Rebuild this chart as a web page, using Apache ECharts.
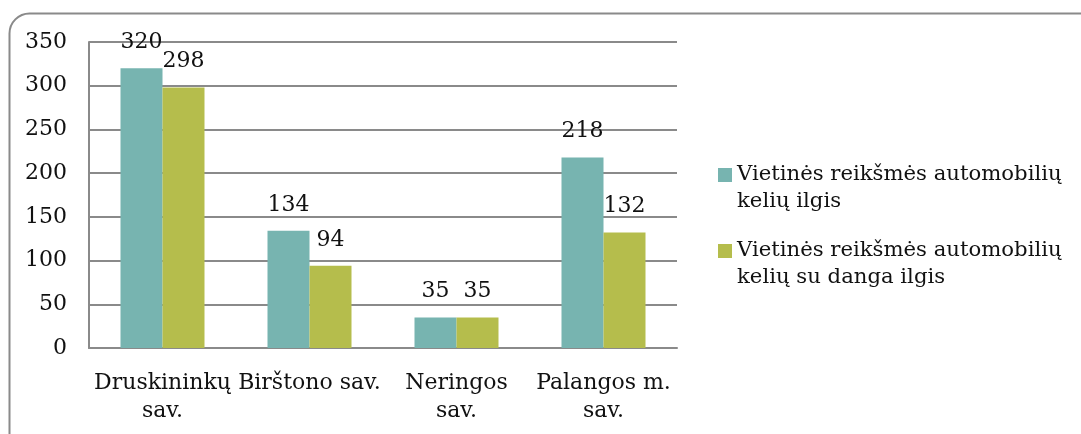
<!DOCTYPE html>
<html lang="lt">
<head>
<meta charset="utf-8">
<title>Keliai</title>
<script src="https://cdn.jsdelivr.net/npm/echarts@6/dist/echarts.min.js"></script>
<style>
  html, body { margin: 0; padding: 0; background: #fff; }
</style>
</head>
<body>
<div id="main" style="width:1081px;height:434px;"></div>
<script type="text/javascript">
  let categories = ['Druskininkų\nsav.', 'Birštono sav.', 'Neringos\nsav.', 'Palangos m.\nsav.'];
  let roadLength = [320, 134, 35, 218];
  let pavedLength = [298, 94, 35, 132];
  let seriesNames = [
    'Vietinės reikšmės automobilių\nkelių ilgis',
    'Vietinės reikšmės automobilių\nkelių su danga ilgis'
  ];

  let font = "'DejaVu Serif', 'Liberation Serif', serif";
  let myChart = echarts.init(document.getElementById('main'));

  let labelStyle = { show: true, position: 'top', distance: 15, color: '#111', fontFamily: font, fontSize: 22 };

  let options = {
    animation: false,
    graphic: [{
      type: 'rect',
      shape: { x: 9.5, y: 13.5, width: 1100, height: 440, r: 20 },
      style: { fill: 'none', stroke: '#8a8a8a', lineWidth: 2 },
      silent: true
    }],
    grid: { left: 89, right: 404, top: 42, bottom: 86 },
    legend: {
      orient: 'vertical',
      left: 718,
      top: 161,
      padding: 0,
      itemWidth: 14,
      itemHeight: 54,
      itemGap: 22,
      icon: 'path://M0,0M0,7h14v14h-14zM14,54',
      textStyle: { fontFamily: font, fontSize: 21.2, color: '#111', lineHeight: 27 },
      data: seriesNames
    },
    xAxis: {
      type: 'category',
      data: categories,
      axisLine: { lineStyle: { color: '#8a8a8a', width: 2 } },
      axisTick: { show: false },
      axisLabel: {
        interval: 0, hideOverlap: false, margin: 21,
        fontFamily: font, fontSize: 22, color: '#111', lineHeight: 28
      }
    },
    yAxis: {
      type: 'value',
      min: 0, max: 350, interval: 50,
      axisLine: { show: true, lineStyle: { color: '#8a8a8a', width: 2 } },
      axisTick: { show: false },
      splitLine: { lineStyle: { color: '#8a8a8a', width: 2 } },
      axisLabel: { margin: 22, fontFamily: font, fontSize: 22, color: '#111' }
    },
    series: [
      {
        name: seriesNames[0], type: 'bar', data: roadLength,
        barWidth: 42, barGap: '0%',
        itemStyle: { color: '#77b4b0' },
        label: labelStyle
      },
      {
        name: seriesNames[1], type: 'bar', data: pavedLength,
        barWidth: 42, barGap: '0%',
        itemStyle: { color: '#b5bd4c' },
        label: labelStyle
      }
    ]
  };

  myChart.setOption(options);
</script>
</body>
</html>
